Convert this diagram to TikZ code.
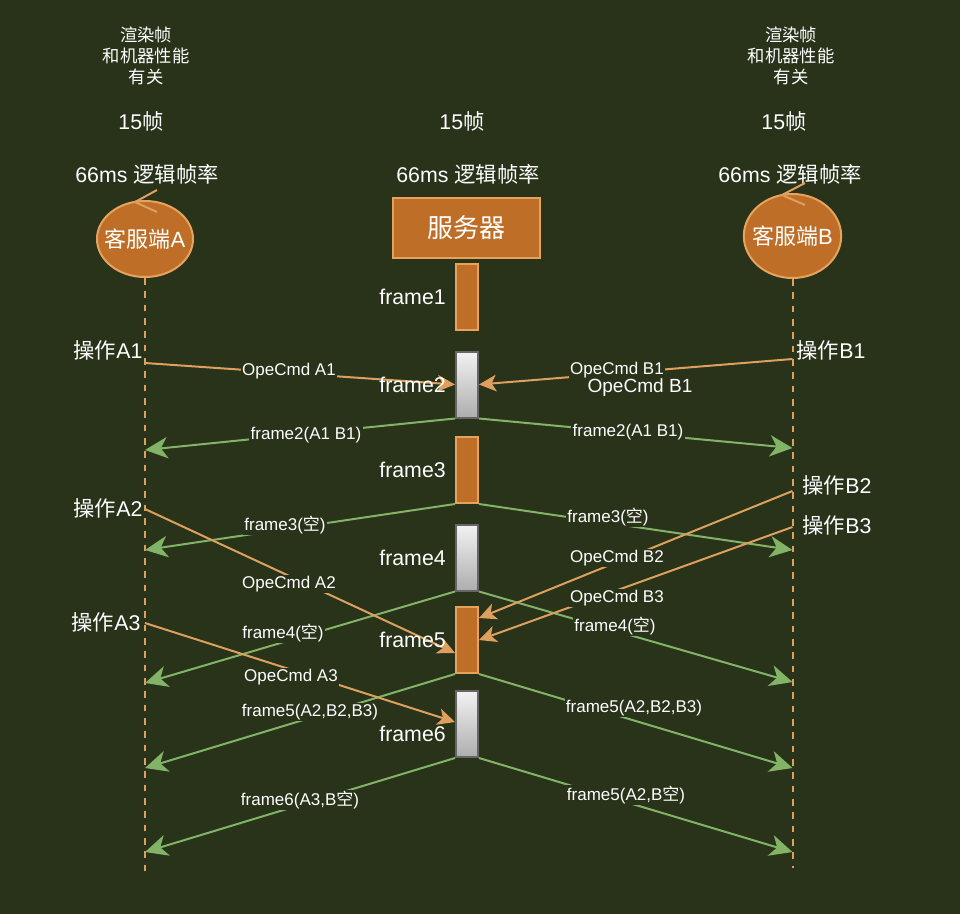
\documentclass[tikz,border=0pt]{standalone}
\usepackage{fontspec}
\setmainfont{Liberation Sans}
\newfontfamily\cjk{Noto Sans CJK SC}
\usetikzlibrary{shapes.geometric,arrows.meta,calc}
\definecolor{bg}{HTML}{28331A}
\definecolor{orf}{HTML}{BF6E28}
\definecolor{ors}{HTML}{E5A35E}
\definecolor{orl}{HTML}{DDA05E}
\definecolor{grn}{HTML}{82B366}
\definecolor{gst}{HTML}{666666}
\newcommand{\zhtxt}[1]{{\cjk #1}}
\begin{document}
\begin{tikzpicture}[x=0.75pt,y=-0.75pt,
  big/.style={text=white,inner sep=0pt,font=\fontsize{16}{19}\selectfont},
  note/.style={text=white,inner sep=0pt,align=center,font=\fontsize{13}{15.75}\selectfont},
  elbl/.style={text=white,fill=bg,inner sep=1pt,font=\fontsize{12.75}{15}\selectfont},
  ofr/.style={draw=ors,fill=orf,line width=1.5pt,minimum width=16.5pt,minimum height=49.5pt,inner sep=0pt},
  gfr/.style={draw=gst,top color=white!95!black,bottom color=white!68!black,line width=1.5pt,minimum width=16.5pt,minimum height=49.5pt,inner sep=0pt},
  oarr/.style={draw=orl,line width=1.5pt,-{Stealth[length=13pt,width=12.5pt,inset=3.5pt]}},
  garr/.style={draw=grn,line width=1.5pt,-{Stealth[length=17pt,width=16pt,inset=5pt]}},
  life/.style={draw=orl,line width=1.5pt,dash pattern=on 5pt off 5pt},
  actor/.style={ellipse,draw=ors,fill=orf,line width=1.5pt,inner sep=0pt},
  actortxt/.style={text=white,inner sep=0pt,font=\fontsize{16.5}{19}\selectfont}
]
\fill[bg] (0,0) rectangle (960,914);
\useasboundingbox (0,0) rectangle (960,914);

% top notes
\node[note] (nA) at (146,56) {\zhtxt{渲染帧}\\\zhtxt{和机器性能}\\\zhtxt{有关}};
\node[note] (nB) at (791,56) {\zhtxt{渲染帧}\\\zhtxt{和机器性能}\\\zhtxt{有关}};
\node[big] (fpsA) at (141,121) {15\zhtxt{帧}};
\node[big] (fpsS) at (462,121) {15\zhtxt{帧}};
\node[big] (fpsB) at (784,121) {15\zhtxt{帧}};
\node[big] (lgA) at (147,174) {66ms \zhtxt{逻辑帧率}};
\node[big] (lgS) at (468,174) {66ms \zhtxt{逻辑帧率}};
\node[big] (lgB) at (790,174) {66ms \zhtxt{逻辑帧率}};

% actors
\node[actor,minimum width=72pt,minimum height=57pt] (cA) at (145,239) {};
\node[actortxt] (cAt) at (cA.center) {\zhtxt{客服端}A};
\node[actor,minimum width=73pt,minimum height=63pt] (cB) at (792.5,236) {};
\node[actortxt] (cBt) at (cB.center) {\zhtxt{客服端}B};
\node[draw=ors,fill=orf,line width=1.5pt,minimum width=110.25pt,minimum height=45pt,inner sep=0pt,text=white,font=\fontsize{19.5}{22}\selectfont] (srv) at (466.5,228) {\zhtxt{服务器}};

\draw[orl,line width=1.5pt] (157,190) -- (135,202) -- (157,212);
\draw[orl,line width=1.5pt] (805,183) -- (782,195) -- (805,205);

% lifelines
\coordinate (Aend) at (145,875);
\coordinate (Bend) at (792.5,868);
\draw[life] (cA.south) -- (Aend);
\draw[life] (cB.south) -- (Bend);

% frames
\node[ofr] (f1) at (467,297) {};
\node[gfr] (f2) at (467,384.5) {};
\node[ofr] (f3) at (467,470) {};
\node[gfr] (f4) at (467,557.5) {};
\node[ofr] (f5) at (467,640) {};
\node[gfr] (f6) at (467,724) {};

\node[big,anchor=east] (l1) at (446,297) {frame1};
\node[big,anchor=east] (l3) at (446,470) {frame3};
\node[big,anchor=east] (l4) at (446,558) {frame4};
\node[big,anchor=east] (l6) at (446,734) {frame6};

% action labels
\node[big] (oA1) at (108,350) {\zhtxt{操作}A1};
\node[big] (oB1) at (831,350) {\zhtxt{操作}B1};
\node[big] (oA2) at (108,508) {\zhtxt{操作}A2};
\node[big] (oA3) at (106,622) {\zhtxt{操作}A3};
\node[big] (oB2) at (837,485) {\zhtxt{操作}B2};
\node[big] (oB3) at (837,525) {\zhtxt{操作}B3};

% lifeline points
\coordinate (pA1) at (145,363);
\coordinate (pB1) at (792.5,359);
\coordinate (pA2) at (145,509);
\coordinate (pB2) at (792.5,491);
\coordinate (pB3) at (792.5,527);
\coordinate (pA3) at (145,623);
\coordinate (rA2) at (145,450);
\coordinate (rB2) at (792.5,448);
\coordinate (rA3) at (145,550);
\coordinate (rB3) at (792.5,550);
\coordinate (rA4) at (145,683);
\coordinate (rB4) at (792.5,682);
\coordinate (rA5) at (145,768);
\coordinate (rB5) at (792.5,768);
\coordinate (rA6) at (145,852);
\coordinate (rB6) at (792.5,852);

% green broadcasts
\draw[garr] (f2.south west) -- (rA2);
\draw[garr] (f2.south east) -- (rB2);
\draw[garr] (f3.south west) -- (rA3);
\draw[garr] (f3.south east) -- (rB3);
\draw[garr] (f4.south west) -- (rA4);
\draw[garr] (f4.south east) -- (rB4);
\draw[garr] (f5.south west) -- (rA5);
\draw[garr] (f5.south east) -- (rB5);
\draw[garr] (f6.south west) -- (rA6);
\draw[garr] (f6.south east) -- (rB6);

% orange commands
\draw[oarr] (pA1) -- (f2.west);
\draw[oarr] (pB1) -- (f2.east);
\draw[oarr] (pA2) -- ($(f5.west)+(0,13)$);
\draw[oarr] (pB2) -- ($(f5.east)+(0,-22)$);
\draw[oarr] (pB3) -- (f5.east);
\draw[oarr] (pA3) -- ($(f6.west)+(0,-2)$);

% labels over the lines
\node[elbl] (eA1) at (289,371) {OpeCmd A1};
\node[elbl] (eB1) at (617,370) {OpeCmd B1};
\node[text=white,inner sep=0pt,font=\fontsize{14.3}{16}\selectfont] (eB1x) at (640,388) {OpeCmd B1};
\node[elbl] (g2a) at (306,435) {frame2(A1 B1)};
\node[elbl] (g2b) at (628,432) {frame2(A1 B1)};
\node[elbl] (g3a) at (285,525) {frame3(\zhtxt{空})};
\node[elbl] (g3b) at (608,517) {frame3(\zhtxt{空})};
\node[elbl] (eA2) at (289,584) {OpeCmd A2};
\node[elbl] (eB2) at (617,558) {OpeCmd B2};
\node[elbl] (eB3) at (617,598) {OpeCmd B3};
\node[elbl] (g4a) at (283,633) {frame4(\zhtxt{空})};
\node[elbl] (g4b) at (615,626) {frame4(\zhtxt{空})};
\node[elbl] (eA3) at (291,677) {OpeCmd A3};
\node[elbl] (g5a) at (310,712) {frame5(A2,B2,B3)};
\node[elbl] (g5b) at (634,708) {frame5(A2,B2,B3)};
\node[elbl] (g6a) at (300,800) {frame6(A3,B\zhtxt{空})};
\node[elbl] (g6b) at (626,795) {frame5(A2,B\zhtxt{空})};

\node[big,anchor=east] (l2) at (446,385) {frame2};
\node[big,anchor=east] (l5) at (446,640) {frame5};
\end{tikzpicture}
\end{document}
